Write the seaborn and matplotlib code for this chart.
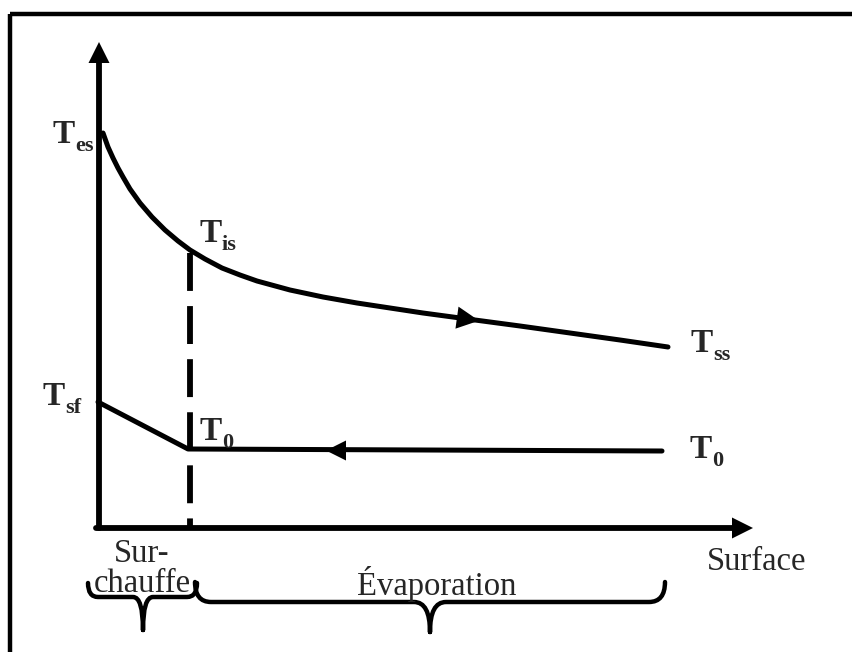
import numpy as np
import pandas as pd
import matplotlib
matplotlib.use("Agg")
import matplotlib.pyplot as plt
from matplotlib.path import Path
from matplotlib.patches import PathPatch
import seaborn as sns

# Schematic, in pixel units (y grows downwards)
hot_x = [103, 108, 113, 118, 123, 130, 140, 152, 165, 178, 190, 205, 222,
         240, 257, 290, 323, 357, 390, 423, 475, 520, 570, 620, 668]
hot_y = [133, 147, 158, 168, 177, 189, 203, 217, 230, 241, 250, 259, 268,
         275, 281, 290, 297, 303, 308, 313, 320, 326, 333, 340, 347]
cold_x = [98, 188, 662]
cold_y = [402, 449, 451]
split_x = 190
axis_origin = (99, 528)
axis_top = 42
axis_right = 753

# T labels: (x, baseline y, subscript)
t_labels = [(53, 143, "es"), (200, 242, "is"), (691, 352, "ss"),
            (43, 405, "sf"), (200, 440, "0"), (690, 458, "0")]
# braces: (left, right, centre, top y, middle y, tip y, radius)
braces = [(88, 197, 143, 583, 597, 630, 10),
          (195, 665, 430, 582, 602, 632, 16)]

sns.set_theme(style="white")
plt.rcParams["font.family"] = ["Liberation Serif", "DejaVu Serif"]

fig = plt.figure(figsize=(8.53, 6.52), dpi=100)
ax = fig.add_axes([0, 0, 1, 1])

# outer frame (only top and left edges are visible)
ax.plot([10, 853], [14, 14], color="black", lw=3.2, solid_capstyle="butt")
ax.plot([10, 10], [14, 652], color="black", lw=3.2, solid_capstyle="butt")

# axes with arrows
ox, oy = axis_origin
ax.plot([ox, ox], [oy, axis_top + 18], color="black", lw=4.2)
ax.plot([ox - 3, axis_right - 18], [oy, oy], color="black", lw=4.2)
head = dict(arrowstyle="-|>,head_length=0.42,head_width=0.21", color="black",
            lw=0, mutation_scale=36, shrinkA=0, shrinkB=0)
ax.annotate("", xy=(ox, axis_top), xytext=(ox, axis_top + 30), arrowprops=head)
ax.annotate("", xy=(axis_right, oy), xytext=(axis_right - 30, oy), arrowprops=head)

# curves
curves = pd.DataFrame({"x": hot_x + cold_x, "y": hot_y + cold_y,
                       "fluid": ["hot"] * len(hot_x) + ["cold"] * len(cold_x)})
sns.lineplot(data=curves, x="x", y="y", units="fluid", estimator=None,
             sort=False, color="black", lw=3.6, ax=ax)
ax.set_xlim(0, 853)
ax.set_ylim(652, 0)
ax.set_axis_off()

# flow direction arrows
flow_head = dict(arrowstyle="-|>,head_length=0.4,head_width=0.2", color="black",
                 lw=0, mutation_scale=40, shrinkA=0, shrinkB=0)
ax.annotate("", xy=(479, 320.7), xytext=(445, 316), arrowprops=flow_head)
ax.annotate("", xy=(326, 450.5), xytext=(360, 450.5),
            arrowprops=dict(flow_head, mutation_scale=36))

# dashed separation
ax.plot([split_x, split_x], [253, 527], color="black", lw=4.2,
        linestyle=(0, (6.5, 2.6)))

# labels
for x, y, sub in t_labels:
    ax.text(x, y, "T", fontsize=24, fontweight="bold", ha="left", va="baseline")
    ax.text(x + 22, y + 8, sub, fontsize=16, fontweight="bold", ha="left",
            va="baseline")

ax.text(142, 562, "Sur-", fontsize=23.5, ha="center", va="baseline")
ax.text(142, 592, "chauffe", fontsize=23.5, ha="center", va="baseline")
ax.text(437, 595, "Évaporation", fontsize=23.5, ha="center", va="baseline")
ax.text(707, 570, "Surface", fontsize=23.5, ha="left", va="baseline")

# braces
for x0, x1, xc, yt, ym, ytip, r in braces:
    verts = [(x0, yt), (x0, ym), (x0 + r, ym), (xc - r, ym), (xc, ym), (xc, ytip),
             (xc, ytip), (xc, ym), (xc + r, ym), (x1 - r, ym), (x1, ym), (x1, yt)]
    codes = [Path.MOVETO, Path.CURVE3, Path.CURVE3, Path.LINETO, Path.CURVE3,
             Path.CURVE3, Path.MOVETO, Path.CURVE3, Path.CURVE3, Path.LINETO,
             Path.CURVE3, Path.CURVE3]
    ax.add_patch(PathPatch(Path(verts, codes), facecolor="none",
                           edgecolor="black", lw=3.2, capstyle="round"))

fig.savefig("out.png", dpi=100)
